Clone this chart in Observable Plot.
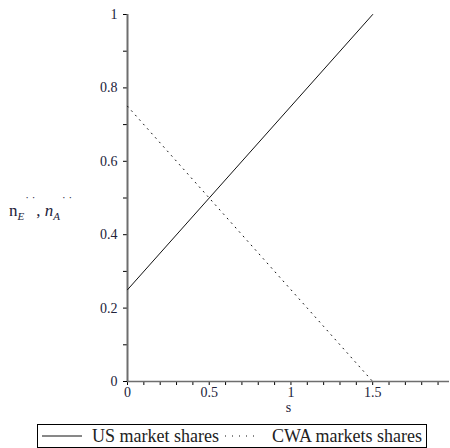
<!DOCTYPE html>
<html>
<head>
<meta charset="utf-8">
<script src="https://cdn.jsdelivr.net/npm/d3@7"></script>
<script src="https://cdn.jsdelivr.net/npm/@observablehq/plot@0.6"></script>
<style>
  html, body { margin: 0; padding: 0; background: #fff; }
  #chart { width: 450px; height: 420px; }
  #chart svg text { font-family: "Liberation Serif", "Times New Roman", serif; }
  #legend {
    margin: 4px 0 0 37px; width: 388px; height: 22px; border: 1px solid #000;
    font-family: "Liberation Serif", "Times New Roman", serif; font-size: 18px; color: #222;
    display: flex; align-items: center; white-space: nowrap; box-sizing: content-box;
  }
  #legend svg { display: inline-block; }
</style>
</head>
<body>
<div id="chart"></div>
<div id="legend"></div>
<script>
// Data
const sValues = [0, 1.5];
const usShares = [0.25, 1];
const cwaShares = [0.75, 0];
const seriesNames = ["US market shares", "CWA markets shares"];
const xMajorTicks = [0, 0.5, 1, 1.5];
const xMinorTicks = [0.1, 0.2, 0.3, 0.4, 0.6, 0.7, 0.8, 0.9, 1.1, 1.2, 1.3, 1.4, 1.6, 1.7, 1.8, 1.9];
const yMajorTicks = [0, 0.2, 0.4, 0.6, 0.8, 1];
const yMinorTicks = [0.1, 0.3, 0.5, 0.7, 0.9];
const xDomain = [0, 1.97];
const yDomain = [0, 1];

const usData = sValues.map((s, i) => ({s, v: usShares[i]}));
const cwaData = sValues.map((s, i) => ({s, v: cwaShares[i]}));

const fmt = d => String(d);
const textColor = "#22223a";
const serif = "'Liberation Serif', 'Times New Roman', serif";

const chart = Plot.plot({
  width: 450,
  height: 420,
  marginLeft: 127,
  marginRight: 1,
  marginTop: 14,
  marginBottom: 39,
  x: {domain: xDomain},
  y: {domain: yDomain},
  style: {fontFamily: serif, fontSize: "14px", color: textColor, background: "white"},
  marks: [
    Plot.axisX(xMinorTicks, {tickSize: 4, tickFormat: () => "", label: null, stroke: "#000"}),
    Plot.axisX(xMajorTicks, {tickSize: 4, tickPadding: 2, tickFormat: fmt, label: "s", labelAnchor: "center", labelArrow: "none", labelOffset: 30, stroke: "#000", fill: textColor, fontFamily: serif}),
    Plot.axisY(yMinorTicks, {tickSize: 4, tickFormat: () => "", label: null, stroke: "#000"}),
    Plot.axisY(yMajorTicks, {tickSize: 4, tickPadding: 6, tickFormat: fmt, label: null, stroke: "#000", fill: textColor, fontFamily: serif}),
    Plot.ruleX([0], {stroke: "#6e6e6e", strokeWidth: 2}),
    Plot.ruleY([0], {stroke: "#6e6e6e", strokeWidth: 1.5}),
    Plot.line(usData, {x: "s", y: "v", stroke: "#111", strokeWidth: 1}),
    Plot.line(cwaData, {x: "s", y: "v", stroke: "#111", strokeWidth: 1, strokeDasharray: "1,5"})
  ]
});
document.getElementById("chart").appendChild(chart);

// y-axis label with subscripts/superscripts
const svg = d3.select(chart);
const lbl = svg.append("text")
  .attr("x", 9).attr("y", 216)
  .attr("text-anchor", "start")
  .attr("font-family", serif)
  .attr("font-size", 17).attr("fill", textColor);
lbl.append("tspan").text("n");
lbl.append("tspan").attr("font-style", "italic").attr("font-size", 11).attr("dy", 4).text("E");
lbl.append("tspan").attr("font-size", 11).attr("dy", -19).attr("dx", 1).text("· ·");
lbl.append("tspan").attr("dy", 15).attr("dx", 1).text(", ");
lbl.append("tspan").attr("font-style", "italic").text("n");
lbl.append("tspan").attr("font-style", "italic").attr("font-size", 11).attr("dy", 4).text("A");
lbl.append("tspan").attr("font-size", 11).attr("dy", -19).attr("dx", 2).text("· ·");

// Legend
const legend = d3.select("#legend");
function swatch(dash, ml) {
  const s = legend.append("svg").attr("width", dash ? 34 : 40).attr("height", 4).style("margin-left", ml + "px");
  s.append("line").attr("x1", 0).attr("x2", dash ? 34 : 40).attr("y1", 2).attr("y2", 2)
    .attr("stroke", "#111").attr("stroke-width", 1).attr("stroke-dasharray", dash || null);
}
swatch(null, 4);
legend.append("span").style("margin-left", "10px").text(seriesNames[0]);
swatch("1,6", 6);
legend.append("span").style("margin-left", "13px").text(seriesNames[1]);
</script>
</body>
</html>
